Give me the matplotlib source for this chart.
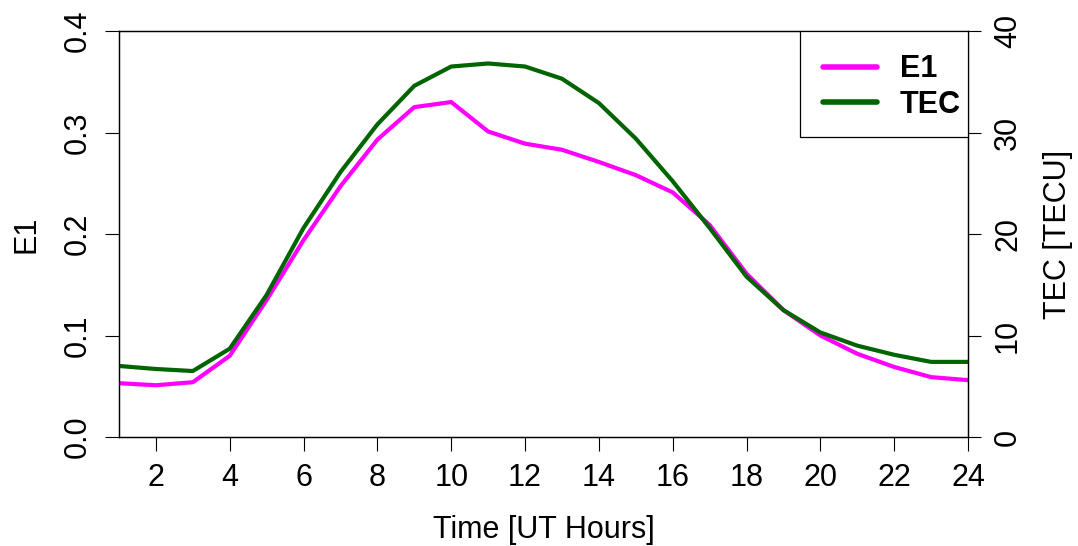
import matplotlib
matplotlib.use("Agg")
import matplotlib.pyplot as plt
from matplotlib.patches import Rectangle

plt.rcParams["font.family"] = ["Liberation Sans", "DejaVu Sans"]

hours = list(range(1, 25))
e1 = [0.053, 0.051, 0.054, 0.080, 0.135, 0.194, 0.247, 0.293, 0.325, 0.330,
      0.301, 0.289, 0.283, 0.271, 0.258, 0.241, 0.209, 0.161, 0.125, 0.100,
      0.082, 0.069, 0.059, 0.056]
tec = [7.0, 6.7, 6.5, 8.7, 14.0, 20.6, 26.1, 30.8, 34.6, 36.5,
       36.8, 36.5, 35.3, 32.9, 29.4, 25.2, 20.6, 15.8, 12.5, 10.3,
       9.0, 8.1, 7.4, 7.4]
x_ticks = list(range(2, 25, 2))
e1_ticks = [0.0, 0.1, 0.2, 0.3, 0.4]
tec_ticks = [0, 10, 20, 30, 40]

MAGENTA, DKGREEN = "#ff00ff", "#006400"
FS = 22

fig = plt.figure(figsize=(10.78, 5.46), dpi=100)
ax = fig.add_axes([119 / 1078, 1 - 437 / 546, (968 - 119) / 1078, (437 - 31) / 546])
ax2 = ax.twinx()

l1, = ax.plot(hours, e1, color=MAGENTA, lw=3, label="E1", solid_joinstyle="round")
l2, = ax2.plot(hours, tec, color=DKGREEN, lw=3, label="TEC", solid_joinstyle="round")

ax.set_xlim(1, 24)
ax.set_ylim(0, 0.4)
ax2.set_ylim(0, 40)
ax.set_xticks(x_ticks)
ax.set_yticks(e1_ticks)
ax.set_yticklabels([f"{v:.1f}" for v in e1_ticks], rotation=90, va="center")
ax2.set_yticks(tec_ticks)
ax2.set_yticklabels([str(v) for v in tec_ticks], rotation=90, va="center")

for a in (ax, ax2):
    for s in a.spines.values():
        s.set_linewidth(0.9)
ax.tick_params(axis="x", length=10, width=0.8, labelsize=FS, pad=9)
ax.tick_params(axis="y", length=10, width=0.8, labelsize=FS, pad=9)
ax2.tick_params(axis="y", length=9, width=0.8, labelsize=FS, pad=9)

ax.set_xlabel("Time [UT Hours]", fontsize=FS, va="center")
ax.xaxis.set_label_coords(0.5, -0.229)
ax.set_ylabel("E1", fontsize=FS, va="center")
ax.yaxis.set_label_coords(-0.1084, 0.5)
ax2.set_ylabel("TEC [TECU]", fontsize=FS, va="center")
ax2.yaxis.set_label_coords(1.106, 0.5)

# legend box drawn separately (R-style padding)
box = Rectangle((0.802, 0.739), 0.198, 0.261, transform=ax2.transAxes,
                facecolor="white", edgecolor="black", lw=0.9, zorder=5)
ax2.add_patch(box)
leg = ax2.legend([l1, l2], ["E1", "TEC"], loc="center left",
                 bbox_to_anchor=(0.829, 0.862), bbox_transform=ax2.transAxes,
                 borderaxespad=0, borderpad=0, frameon=False,
                 prop={"size": FS, "weight": "bold"}, handlelength=1.76,
                 handletextpad=0.75, labelspacing=0.17)
leg.set_zorder(6)
for h in leg.legend_handles:
    h.set_linewidth(4)
    h.set_solid_capstyle("round")

fig.savefig("out.png", dpi=100)
